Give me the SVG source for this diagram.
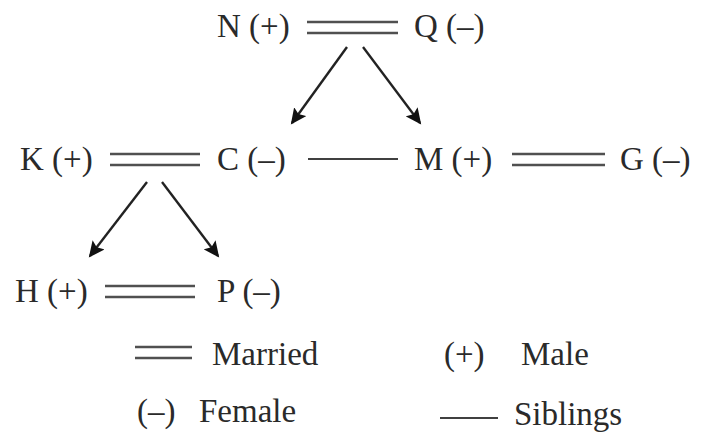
<svg xmlns="http://www.w3.org/2000/svg" width="703" height="440" viewBox="0 0 703 440">
<style>
text{font-family:"Liberation Serif","Times New Roman",serif;font-size:33px;fill:#2a2a2a}
.m{stroke:#505050;stroke-width:2.6;fill:none}
.s{stroke:#404040;stroke-width:2.2;fill:none}
.a{stroke:#222;stroke-width:2.4;fill:none;marker-end:url(#ah)}
</style>
<defs>
<marker id="ah" markerWidth="17" markerHeight="15" refX="14" refY="7.5" orient="auto" markerUnits="userSpaceOnUse">
<path d="M0,0 L16,7.5 L0,15 L3,7.5 Z" fill="#111"/>
</marker>
</defs>
<rect width="703" height="440" fill="#fff"/>
<g id="N"><text x="217" y="37">N (+)</text></g>
<g id="Q"><text x="414" y="37">Q (–)</text></g>
<g id="K"><text x="20" y="170">K (+)</text></g>
<g id="C"><text x="217" y="170">C (–)</text></g>
<g id="M"><text x="414" y="170">M (+)</text></g>
<g id="G"><text x="620" y="170">G (–)</text></g>
<g id="H"><text x="15" y="302">H (+)</text></g>
<g id="P"><text x="217" y="302">P (–)</text></g>
<g id="connectors">
<path class="m" d="M307,22H398M307,33H398"/>
<path class="m" d="M110,154H200M110,165H200"/>
<path class="s" d="M308,159H398"/>
<path class="m" d="M512,154H605M512,165H605"/>
<path class="m" d="M105,286H195M105,297H195"/>
<path class="a" d="M347,47L292,123"/>
<path class="a" d="M363,47L420,123"/>
<path class="a" d="M147,182L90,256"/>
<path class="a" d="M162,182L218,256"/>
</g>
<g id="legend">
<path class="m" d="M135,347H192M135,358H192"/>
<text x="212" y="365">Married</text>
<text x="444" y="365">(+)</text>
<text x="521" y="365">Male</text>
<text x="137" y="422">(–)</text>
<text x="199" y="422">Female</text>
<path class="s" d="M440,418H498"/>
<text x="514" y="425">Siblings</text>
</g>
</svg>
